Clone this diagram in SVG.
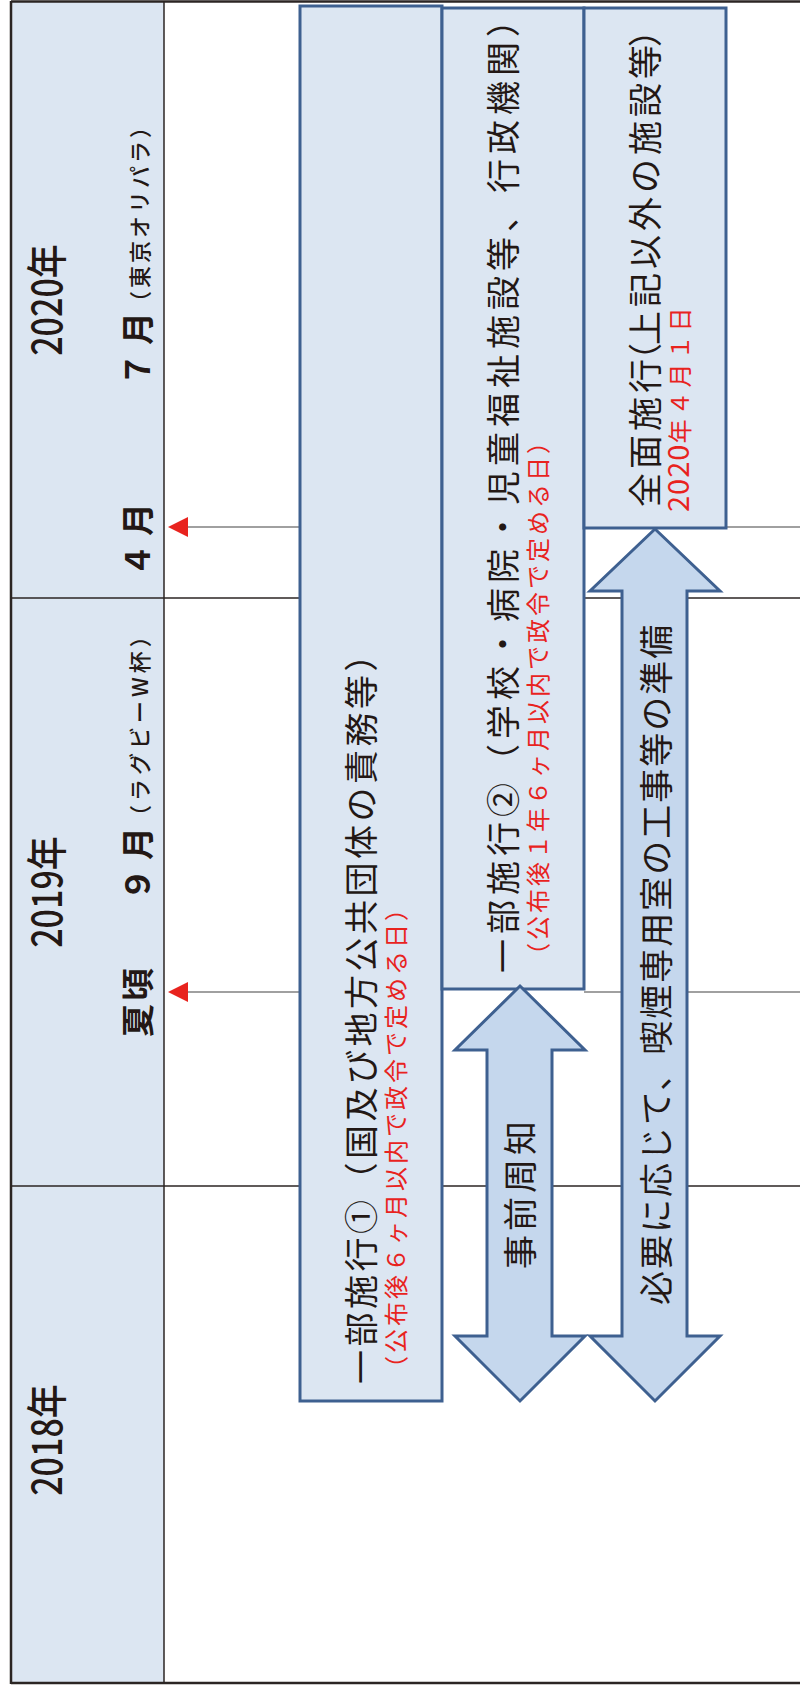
<svg xmlns="http://www.w3.org/2000/svg" width="800" height="1685" viewBox="0 0 800 1685">
<style>
.jp{font-family:"Noto Sans CJK JP","Noto Sans CJK SC",sans-serif;fill:#231815}
.red{fill:#e8231e}
.b{font-weight:bold}
.m{font-weight:500}
.box{fill:#dce6f2;stroke:#3e6090;stroke-width:3}
.barrow{fill:#c5d7ed;stroke:#3e6090;stroke-width:3;stroke-linejoin:miter}
.grid{stroke:#2b2523;stroke-width:1.5;fill:none}
.outer{stroke:#2b2523;stroke-width:2.5;fill:none}
.ptr{stroke:#808080;stroke-width:1.5}
.tip{fill:#e8231e}
</style>
<rect x="0" y="0" width="800" height="1685" fill="#ffffff"/>
<g id="table">
<rect x="11" y="1" width="153" height="1682" fill="#dce6f2"/>
<line class="outer" x1="11" y1="1.5" x2="800" y2="1.5"/>
<line class="outer" x1="11" y1="1683" x2="800" y2="1683"/>
<line class="outer" x1="11" y1="1" x2="11" y2="1684"/>
<line class="grid" x1="164" y1="1" x2="164" y2="1683"/>
<line class="grid" x1="11" y1="598" x2="800" y2="598"/>
<line class="grid" x1="11" y1="1186" x2="800" y2="1186"/>
</g>
<g id="year-2020">
<text class="jp m" font-size="41" text-anchor="middle" transform="translate(62,300) rotate(-90) scale(0.83,1)">2020年</text>
<text class="jp b" font-size="33" letter-spacing="8" transform="translate(150,386) rotate(-90)">７月</text>
<text class="jp m" font-size="22" letter-spacing="3" transform="translate(148,313) rotate(-90)">（東京オリパラ）</text>
<text class="jp b" font-size="33" letter-spacing="8" transform="translate(150,577) rotate(-90)">４月</text>
</g>
<g id="year-2019">
<text class="jp m" font-size="41" text-anchor="middle" transform="translate(62,892) rotate(-90) scale(0.83,1)">2019年</text>
<text class="jp b" font-size="33" letter-spacing="8" transform="translate(150,901) rotate(-90)">９月</text>
<text class="jp m" font-size="22" letter-spacing="4" transform="translate(148,827) rotate(-90)">（ラグビーW杯）</text>
<text class="jp b" font-size="33" letter-spacing="3" transform="translate(150,1037) rotate(-90)">夏頃</text>
</g>
<g id="year-2018">
<text class="jp m" font-size="41" text-anchor="middle" transform="translate(62,1440) rotate(-90) scale(0.83,1)">2018年</text>
</g>
<g id="connectors">
<line class="ptr" x1="186" y1="527" x2="300" y2="527"/>
<line class="ptr" x1="726" y1="527" x2="800" y2="527"/>
<polygon class="tip" points="168,527 188,517 188,537"/>
<line class="ptr" x1="186" y1="992" x2="300" y2="992"/>
<line class="ptr" x1="584" y1="992" x2="800" y2="992"/>
<polygon class="tip" points="168,992 188,982 188,1002"/>
</g>
<g id="box1">
<rect class="box" x="300" y="6" width="142" height="1395"/>
<text class="jp" font-size="34" letter-spacing="3.5" transform="translate(374,1384) rotate(-90)">一部施行①（国及び地方公共団体の責務等）</text>
<text class="jp red" font-size="24" letter-spacing="3" transform="translate(405,1380) rotate(-90)">（公布後６ヶ月以内で政令で定める日）</text>
</g>
<g id="box2">
<rect class="box" x="442" y="8" width="142" height="981"/>
<text class="jp" font-size="34" letter-spacing="5" transform="translate(516,973) rotate(-90)">一部施行②（学校・病院・児童福祉施設等、行政機関）</text>
<text class="jp red" font-size="24" letter-spacing="3" transform="translate(547,967) rotate(-90)">（公布後１年６ヶ月以内で政令で定める日）</text>
</g>
<g id="box3">
<rect class="box" x="584" y="8" width="142" height="520"/>
<text class="jp" font-size="34" letter-spacing="4" transform="translate(658,507) rotate(-90)">全面施行<tspan dx="-22">（</tspan><tspan dx="-6">上記以外の施設等</tspan><tspan dx="-6">）</tspan></text>
<text class="jp red" transform="translate(689,512) rotate(-90)"><tspan font-size="29" letter-spacing="1">2020</tspan><tspan font-size="24" letter-spacing="4">年４月１日</tspan></text>
</g>
<g id="arrow-notice">
<polygon class="barrow" points="520,986 585,1050 552,1050 552,1336 585,1336 520,1401 455,1336 487,1336 487,1050 455,1050"/>
<text class="jp" font-size="34" letter-spacing="4" transform="translate(533,1269) rotate(-90)">事前周知</text>
</g>
<g id="arrow-prep">
<polygon class="barrow" points="655,529 720,591 687,591 687,1336 720,1336 655,1401 590,1336 622,1336 622,591 590,591"/>
<text class="jp" font-size="34" letter-spacing="2" transform="translate(669,1305) rotate(-90)">必要に応じて、喫煙専用室の工事等の準備</text>
</g>
</svg>
